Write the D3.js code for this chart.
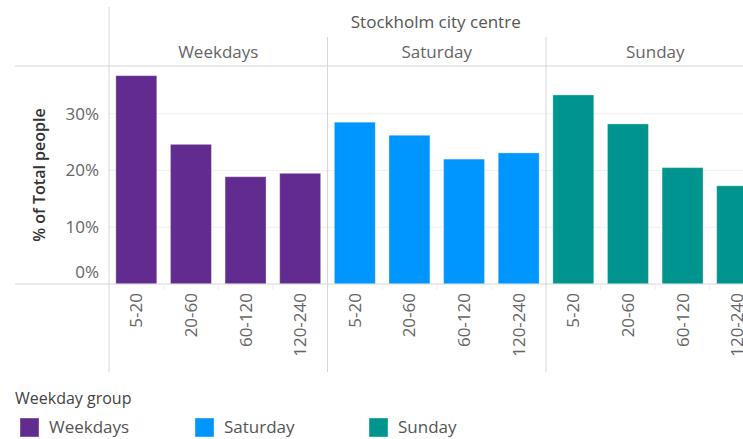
<!DOCTYPE html>
<html>
<head>
<meta charset="utf-8">
<script src="https://cdn.jsdelivr.net/npm/d3@7"></script>
<style>
  body { margin: 0; background: #fff; }
  text { font-family: "Open Sans", sans-serif; }
</style>
</head>
<body>
<div id="chart"></div>
<script>
const groups = ["Weekdays", "Saturday", "Sunday"];
const durations = ["5-20", "20-60", "60-120", "120-240"];
const weekdays = [36.7, 24.6, 18.9, 19.5];
const saturday = [28.5, 26.2, 22.0, 23.1];
const sunday = [33.3, 28.2, 20.5, 17.3];
const yTicks = [0, 10, 20, 30];
const colors = ["#612b8f", "#0096ff", "#00948f"];

const series = [weekdays, saturday, sunday];
const data = [];
groups.forEach((g, i) => durations.forEach((d, j) => data.push({group: g, dur: d, value: series[i][j]})));

const width = 743, height = 439;
const plotLeft = 109, panelW = 218.5, plotTop = 66, plotBottom = 284;
const fs = "17px";

const svg = d3.select("#chart").append("svg")
  .attr("width", width).attr("height", height);

const xGroup = d3.scaleBand().domain(groups).range([plotLeft, plotLeft + panelW * 3]);
const xInner = d3.scaleBand().domain(durations).range([0, panelW])
  .paddingInner(0.25).paddingOuter(0.125);
const y = d3.scaleLinear().domain([0, 38.4]).range([plotBottom, plotTop]);
const color = d3.scaleOrdinal().domain(groups).range(colors);

// gridlines
svg.append("g").selectAll("line")
  .data(yTicks.filter(t => t > 0))
  .enter().append("line")
  .attr("x1", plotLeft).attr("x2", width)
  .attr("y1", d => y(d)).attr("y2", d => y(d))
  .attr("stroke", "#f0f0f0");

// bars
svg.append("g").selectAll("rect")
  .data(data)
  .enter().append("rect")
  .attr("x", d => xGroup(d.group) + xInner(d.dur))
  .attr("y", d => y(d.value))
  .attr("width", xInner.bandwidth())
  .attr("height", d => y(0) - y(d.value))
  .attr("fill", d => color(d.group))
  .attr("stroke", "rgba(255,255,255,0.35)")
  .attr("stroke-width", 1);

// frame lines
const lineColor = "#d6d6d6";
svg.append("line").attr("x1", 15).attr("x2", width).attr("y1", plotTop).attr("y2", plotTop).attr("stroke", lineColor);
svg.append("line").attr("x1", 15).attr("x2", width).attr("y1", plotBottom).attr("y2", plotBottom).attr("stroke", lineColor);
svg.append("line").attr("x1", plotLeft).attr("x2", plotLeft).attr("y1", 7).attr("y2", 372).attr("stroke", lineColor);
svg.append("g").selectAll("line")
  .data(groups.slice(1))
  .enter().append("line")
  .attr("x1", d => xGroup(d)).attr("x2", d => xGroup(d))
  .attr("y1", 37).attr("y2", 372)
  .attr("stroke", lineColor);

// y axis
const yAxis = d3.axisLeft(y).tickValues(yTicks).tickSize(0).tickPadding(10).tickFormat(d => d + "%");
const ya = svg.append("g").attr("transform", `translate(${plotLeft},0)`).call(yAxis);
ya.select(".domain").remove();
ya.selectAll("text").attr("fill", "#666").style("font-size", fs)
  .attr("dy", d => d === 0 ? "-0.4em" : "0.32em");

svg.append("text")
  .attr("transform", "translate(39,175) rotate(-90)")
  .attr("text-anchor", "middle")
  .attr("dy", "0.35em")
  .attr("fill", "#333")
  .style("font-size", "16px")
  .style("font-weight", "600")
  .text("% of Total people");

// x axes per panel
groups.forEach(g => {
  const xa = svg.append("g")
    .attr("transform", `translate(${xGroup(g)},${plotBottom})`)
    .call(d3.axisBottom(xInner).tickSize(0).tickPadding(0));
  xa.select(".domain").remove();
  xa.selectAll("text")
    .attr("transform", "rotate(-90)")
    .attr("x", -9).attr("y", 0).attr("dy", "0.35em")
    .attr("text-anchor", "end")
    .attr("fill", "#666")
    .style("font-size", fs);
  // small ticks at band edges
  xa.selectAll(".sep").data(durations.slice(1)).enter().append("line")
    .attr("x1", d => xInner(d) - xInner.step() * xInner.paddingInner() / 2)
    .attr("x2", d => xInner(d) - xInner.step() * xInner.paddingInner() / 2)
    .attr("y1", 0).attr("y2", 6).attr("stroke", "#eee");
});

// headers
svg.append("text")
  .attr("x", xGroup.range()[0] + (xGroup.range()[1] - xGroup.range()[0]) / 2 - 1)
  .attr("y", 28).attr("text-anchor", "middle")
  .attr("fill", "#555").style("font-size", fs)
  .text("Stockholm city centre");

svg.append("g").selectAll("text")
  .data(groups).enter().append("text")
  .attr("x", d => xGroup(d) + panelW / 2)
  .attr("y", 58).attr("text-anchor", "middle")
  .attr("fill", "#666").style("font-size", fs)
  .text(d => d);

// legend
svg.append("text").attr("x", 15).attr("y", 404)
  .attr("fill", "#444").style("font-size", "16px").text("Weekday group");
const legendX = [20, 195, 369];
const lg = svg.append("g").selectAll("g")
  .data(groups).enter().append("g")
  .attr("transform", (d, i) => `translate(${legendX[i]},418)`);
lg.append("rect").attr("width", 19).attr("height", 19).attr("fill", d => color(d))
  .attr("stroke", "rgba(255,255,255,0.4)");
lg.append("text").attr("x", 29).attr("y", 15)
  .attr("fill", "#555").style("font-size", fs).text(d => d);
</script>
</body>
</html>
